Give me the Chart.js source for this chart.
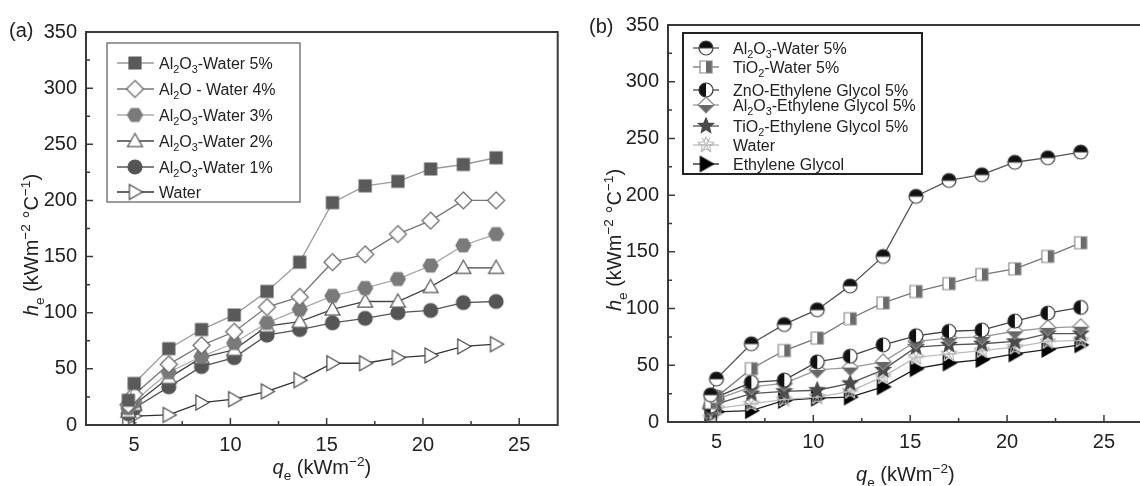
<!DOCTYPE html>
<html>
<head>
<meta charset="utf-8">
<script src="https://cdn.jsdelivr.net/npm/chart.js@4.4.1/dist/chart.umd.min.js"></script>
<style>
  html, body { margin: 0; padding: 0; background: #fff; overflow: hidden; }
  body { width: 1140px; height: 486px; position: relative; }
  .panel { position: absolute; top: 0; }
  #wrapA { left: 0; }
  #wrapB { left: 575px; }
</style>
</head>
<body>
<div class="panel" id="wrapA"><canvas id="chartA" width="565" height="486"></canvas></div>
<div class="panel" id="wrapB"><canvas id="chartB" width="575" height="486"></canvas></div>
<script>
// heat flux q_e (kW/m2), shared by every series
const heatFlux = [4.7, 5.0, 6.8, 8.5, 10.2, 11.9, 13.6, 15.3, 17.0, 18.7, 20.4, 22.1, 23.8];

// (a) Al2O3-water at several concentrations
const labelsA = ['Al_2O_3-Water 5%', 'Al_2O - Water 4%', 'Al_2O_3-Water 3%', 'Al_2O_3-Water 2%', 'Al_2O_3-Water 1%', 'Water'];
const alWater5 = [22, 37, 68, 85, 98, 119, 145, 198, 213, 217, 228, 232, 238];
const alWater4 = [18, 27, 54, 71, 83, 105, 114, 145, 152, 170, 182, 200, 200];
const alWater3 = [15, 21, 47, 61, 73, 91, 103, 115, 122, 130, 142, 160, 170];
const alWater2 = [12, 18, 42, 60, 67, 88, 92, 103, 110, 110, 123, 140, 140];
const alWater1 = [10, 15, 34, 52, 60, 80, 85, 91, 95, 100, 102, 109, 110];
const waterA   = [2, 8, 9, 20, 23, 30, 40, 55, 55, 60, 62, 70, 72];

// (b) different nanofluids at 5%
const labelsB = ['Al_2O_3-Water 5%', 'TiO_2-Water 5%', 'ZnO-Ethylene Glycol 5%', 'Al_2O_3-Ethylene Glycol 5%', 'TiO_2-Ethylene Glycol 5%', 'Water', 'Ethylene Glycol'];
const alWaterB = [24, 38, 69, 86, 99, 120, 146, 199, 213, 218, 229, 233, 238];
const tiWater  = [17, 22, 47, 63, 74, 91, 105, 115, 122, 130, 135, 146, 158];
const znoEG    = [14, 22, 35, 37, 53, 58, 68, 76, 80, 81, 89, 96, 101];
const alEG     = [12, 20, 31, 34, 46, 48, 53, 71, 74, 75, 80, 83, 84];
const tiEG     = [10, 16, 25, 27, 28, 34, 46, 66, 68, 69, 71, 78, 78];
const waterB   = [4, 12, 16, 20, 22, 27, 40, 57, 60, 63, 66, 71, 72];
const glycol   = [6, 9, 10, 19, 21, 22, 31, 47, 52, 55, 60, 64, 68];

const xTicks = [5, 10, 15, 20, 25];
const yTicks = [0, 50, 100, 150, 200, 250, 300, 350];

const FONT = '"Liberation Sans", Arial, sans-serif';

// marker images, used both on the plot and in the legend
function makeMarker(kind, size, fill, stroke, alt) {
  const s = Math.ceil(size + 4);
  const c = document.createElement('canvas');
  c.width = s; c.height = s;
  const g = c.getContext('2d');
  const r = size / 2;
  g.translate(s / 2, s / 2);
  g.lineWidth = 1.2;
  g.strokeStyle = stroke;
  g.fillStyle = fill;
  const poly = pts => {
    g.beginPath();
    pts.forEach(([px, py], i) => i ? g.lineTo(px, py) : g.moveTo(px, py));
    g.closePath();
  };
  const starPts = (ro, ri) => {
    const pts = [];
    for (let i = 0; i < 10; i++) {
      const a = -Math.PI / 2 + i * Math.PI / 5;
      const rr = i % 2 ? ri : ro;
      pts.push([rr * Math.cos(a), rr * Math.sin(a)]);
    }
    return pts;
  };
  switch (kind) {
    case 'square':
      poly([[-r, -r], [r, -r], [r, r], [-r, r]]); g.fill(); g.stroke(); break;
    case 'diamond':
      poly([[0, -r], [r, 0], [0, r], [-r, 0]]); g.fill(); g.stroke(); break;
    case 'hexagon': {
      const pts = [];
      for (let i = 0; i < 6; i++) { const a = i * Math.PI / 3; pts.push([r * Math.cos(a), r * Math.sin(a)]); }
      poly(pts); g.fill(); g.stroke(); break;
    }
    case 'triangle':
      poly([[0, -r], [r, 0.75 * r], [-r, 0.75 * r]]); g.fill(); g.stroke(); break;
    case 'triangleRight':
      poly([[r, 0], [-0.75 * r, -r], [-0.75 * r, r]]); g.fill(); g.stroke(); break;
    case 'circle':
      g.beginPath(); g.arc(0, 0, r, 0, Math.PI * 2); g.fill(); g.stroke(); break;
    case 'circleTop':
      g.beginPath(); g.arc(0, 0, r, 0, Math.PI * 2); g.fill();
      g.fillStyle = alt; g.beginPath(); g.arc(0, 0, r, Math.PI, Math.PI * 2); g.closePath(); g.fill();
      g.beginPath(); g.arc(0, 0, r, 0, Math.PI * 2); g.moveTo(-r, 0); g.lineTo(r, 0); g.stroke(); break;
    case 'circleLeft':
      g.beginPath(); g.arc(0, 0, r, 0, Math.PI * 2); g.fill();
      g.fillStyle = alt; g.beginPath(); g.arc(0, 0, r, Math.PI / 2, Math.PI * 1.5); g.closePath(); g.fill();
      g.beginPath(); g.arc(0, 0, r, 0, Math.PI * 2); g.stroke(); break;
    case 'squareRight':
      poly([[-r, -r], [r, -r], [r, r], [-r, r]]); g.fill();
      g.fillStyle = alt; g.fillRect(0, -r, r, 2 * r);
      poly([[-r, -r], [r, -r], [r, r], [-r, r]]); g.stroke(); break;
    case 'diamondBottom':
      poly([[0, -r], [r, 0], [0, r], [-r, 0]]); g.fill();
      g.fillStyle = alt; poly([[-r, 0], [r, 0], [0, r]]); g.fill();
      poly([[0, -r], [r, 0], [0, r], [-r, 0]]); g.stroke(); break;
    case 'star':
      poly(starPts(r, r * 0.45)); g.fill(); g.stroke(); break;
    case 'asterisk':
      poly(starPts(r, r * 0.5)); g.stroke();
      g.beginPath();
      for (let i = 0; i < 3; i++) {
        const a = i * Math.PI / 3;
        g.moveTo(-r * Math.cos(a), -r * Math.sin(a)); g.lineTo(r * Math.cos(a), r * Math.sin(a));
      }
      g.stroke(); break;
  }
  return c;
}

// tiny markup: _x / _{..} subscript, ^{..} superscript, *..* italic
function parseRich(s) {
  const segs = [];
  let i = 0, buf = '';
  const flush = () => { if (buf) { segs.push({ t: buf, k: 'n' }); buf = ''; } };
  while (i < s.length) {
    const ch = s[i];
    if (ch === '_' || ch === '^') {
      flush();
      let t;
      if (s[i + 1] === '{') { const j = s.indexOf('}', i); t = s.slice(i + 2, j); i = j + 1; }
      else { t = s[i + 1]; i += 2; }
      segs.push({ t, k: ch === '_' ? 'sub' : 'sup' });
    } else if (ch === '*') {
      flush();
      const j = s.indexOf('*', i + 1);
      segs.push({ t: s.slice(i + 1, j), k: 'it' });
      i = j + 1;
    } else { buf += ch; i++; }
  }
  flush();
  return segs;
}

function drawRich(ctx, s, x, y, size, align) {
  const segs = parseRich(s);
  const fontOf = k => (k === 'it' ? 'italic ' : '') + ((k === 'sub' || k === 'sup') ? size * 0.68 : size) + 'px ' + FONT;
  let w = 0;
  segs.forEach(sg => { ctx.font = fontOf(sg.k); sg.w = ctx.measureText(sg.t).width; w += sg.w; });
  let cx = align === 'center' ? x - w / 2 : align === 'right' ? x - w : x;
  ctx.textAlign = 'left';
  ctx.textBaseline = 'alphabetic';
  segs.forEach(sg => {
    ctx.font = fontOf(sg.k);
    const dy = sg.k === 'sub' ? size * 0.28 : sg.k === 'sup' ? -size * 0.42 : 0;
    ctx.fillText(sg.t, cx, y + dy);
    cx += sg.w;
  });
}

// frame, inward ticks, axis titles, panel letter and legend
const decor = {
  id: 'decor',
  afterDraw(chart, args, o) {
    const { ctx, chartArea: a, scales: { x, y } } = chart;
    ctx.save();
    ctx.strokeStyle = '#3a3a3a';
    ctx.lineWidth = 2;
    ctx.strokeRect(a.left, a.top, a.right - a.left, a.bottom - a.top);

    ctx.lineWidth = 1.5;
    ctx.beginPath();
    const mids = t => t.slice(1).map((v, i) => (v + t[i]) / 2);
    xTicks.forEach(v => { const p = x.getPixelForValue(v); ctx.moveTo(p, a.bottom); ctx.lineTo(p, a.bottom - 7); });
    mids(xTicks).forEach(v => { const p = x.getPixelForValue(v); ctx.moveTo(p, a.bottom); ctx.lineTo(p, a.bottom - 4); });
    yTicks.forEach(v => { const p = y.getPixelForValue(v); ctx.moveTo(a.left, p); ctx.lineTo(a.left + 7, p); });
    mids(yTicks).forEach(v => { const p = y.getPixelForValue(v); ctx.moveTo(a.left, p); ctx.lineTo(a.left + 4, p); });
    ctx.stroke();

    ctx.fillStyle = '#222';
    drawRich(ctx, o.letter, o.letterX, o.letterY, 20, 'left');
    drawRich(ctx, '*q*_e (kWm^{−2})', (a.left + a.right) / 2 + o.xTitleShift, o.xTitleY, 20, 'center');
    ctx.save();
    ctx.translate(o.yTitleX, o.yTitleY);
    ctx.rotate(-Math.PI / 2);
    drawRich(ctx, '*h*_e (kWm^{−2} °C^{−1})', 0, 0, 20, 'center');
    ctx.restore();

    const L = o.legend;
    ctx.fillStyle = '#fff';
    ctx.fillRect(L.box[0], L.box[1], L.box[2] - L.box[0], L.box[3] - L.box[1]);
    ctx.strokeStyle = L.border;
    ctx.lineWidth = L.borderWidth;
    ctx.strokeRect(L.box[0], L.box[1], L.box[2] - L.box[0], L.box[3] - L.box[1]);
    chart.data.datasets.forEach((ds, i) => {
      const ry = L.rows[i];
      ctx.strokeStyle = ds.borderColor;
      ctx.lineWidth = 1.3;
      ctx.beginPath(); ctx.moveTo(L.lineFrom, ry); ctx.lineTo(L.lineTo, ry); ctx.stroke();
      const img = ds.pointStyle;
      ctx.drawImage(img, L.markerX - img.width / 2, ry - img.height / 2);
      ctx.fillStyle = '#222';
      drawRich(ctx, ds.label, L.textX, ry + 16 * 0.36, 16, 'left');
    });
    ctx.restore();
  }
};

function series(label, values, marker, lineColor) {
  return {
    label,
    data: heatFlux.map((q, i) => ({ x: q, y: values[i] })),
    borderColor: lineColor,
    borderWidth: 1.3,
    pointStyle: marker,
    pointRadius: 6,
    pointHoverRadius: 6,
    tension: 0,
    fill: false
  };
}

function buildChart(id, datasets, box, decorOpts) {
  return new Chart(document.getElementById(id), {
    type: 'line',
    data: { datasets },
    plugins: [decor],
    options: {
      responsive: false,
      animation: false,
      events: [],
      layout: { padding: { left: 0, top: box.top, right: box.right, bottom: 0 } },
      plugins: { legend: { display: false }, tooltip: { enabled: false }, decor: decorOpts },
      scales: {
        x: {
          type: 'linear', min: 2.5, max: 27,
          grid: { display: false, drawTicks: false },
          border: { display: false },
          ticks: { padding: 8, color: '#222', font: { family: FONT, size: 20 } },
          afterBuildTicks: s => { s.ticks = xTicks.map(v => ({ value: v })); },
          afterFit: s => { s.height = box.xHeight; s.paddingLeft = s.paddingRight = 0; }
        },
        y: {
          type: 'linear', min: 0, max: 350,
          grid: { display: false, drawTicks: false },
          border: { display: false },
          ticks: { padding: 9, color: '#222', font: { family: FONT, size: 20 } },
          afterBuildTicks: s => { s.ticks = yTicks.map(v => ({ value: v })); },
          afterFit: s => { s.width = box.yWidth; s.paddingTop = s.paddingBottom = 0; }
        }
      }
    }
  });
}

// panel (a)
buildChart('chartA', [
  series(labelsA[0], alWater5, makeMarker('square', 12, '#5a5a5a', '#5a5a5a'), '#9a9a9a'),
  series(labelsA[1], alWater4, makeMarker('diamond', 17, '#fff', '#666'), '#777'),
  series(labelsA[2], alWater3, makeMarker('hexagon', 15, '#7a7a7a', '#7a7a7a'), '#aaa'),
  series(labelsA[3], alWater2, makeMarker('triangle', 15, '#fff', '#555'), '#444'),
  series(labelsA[4], alWater1, makeMarker('circle', 14, '#555', '#555'), '#555'),
  series(labelsA[5], waterA, makeMarker('triangleRight', 15, '#fff', '#444'), '#333')
], { top: 32, right: 6, xHeight: 61, yWidth: 86 }, {
  letter: '(a)', letterX: 9, letterY: 37,
  xTitleShift: 0, xTitleY: 474,
  yTitleX: 38, yTitleY: 245,
  legend: {
    box: [107, 43, 300, 202], rows: [63, 89, 115, 141, 167, 192],
    lineFrom: 117, lineTo: 154, markerX: 135, textX: 159,
    border: '#666', borderWidth: 1.3
  }
});

// panel (b)
buildChart('chartB', [
  series(labelsB[0], alWaterB, makeMarker('circleTop', 14, '#fff', '#444', '#111'), '#555'),
  series(labelsB[1], tiWater, makeMarker('squareRight', 12, '#fff', '#888', '#6a6a6a'), '#777'),
  series(labelsB[2], znoEG, makeMarker('circleLeft', 14, '#fff', '#333', '#111'), '#444'),
  series(labelsB[3], alEG, makeMarker('diamondBottom', 16, '#fff', '#888', '#666'), '#999'),
  series(labelsB[4], tiEG, makeMarker('star', 16, '#4a4a4a', '#4a4a4a'), '#555'),
  series(labelsB[5], waterB, makeMarker('asterisk', 16, '#fff', '#bbb'), '#bbb'),
  series(labelsB[6], glycol, makeMarker('triangleRight', 15, '#000', '#000'), '#222')
], { top: 25, right: 7, xHeight: 64, yWidth: 93 }, {
  letter: '(b)', letterX: 14, letterY: 33,
  xTitleShift: 0, xTitleY: 481,
  yTitleX: 46, yTitleY: 240,
  legend: {
    box: [108, 33, 347, 174], rows: [48, 67, 90, 105, 126, 145, 164],
    lineFrom: 118, lineTo: 144, markerX: 131, textX: 158,
    border: '#222', borderWidth: 2
  }
});
</script>
</body>
</html>
